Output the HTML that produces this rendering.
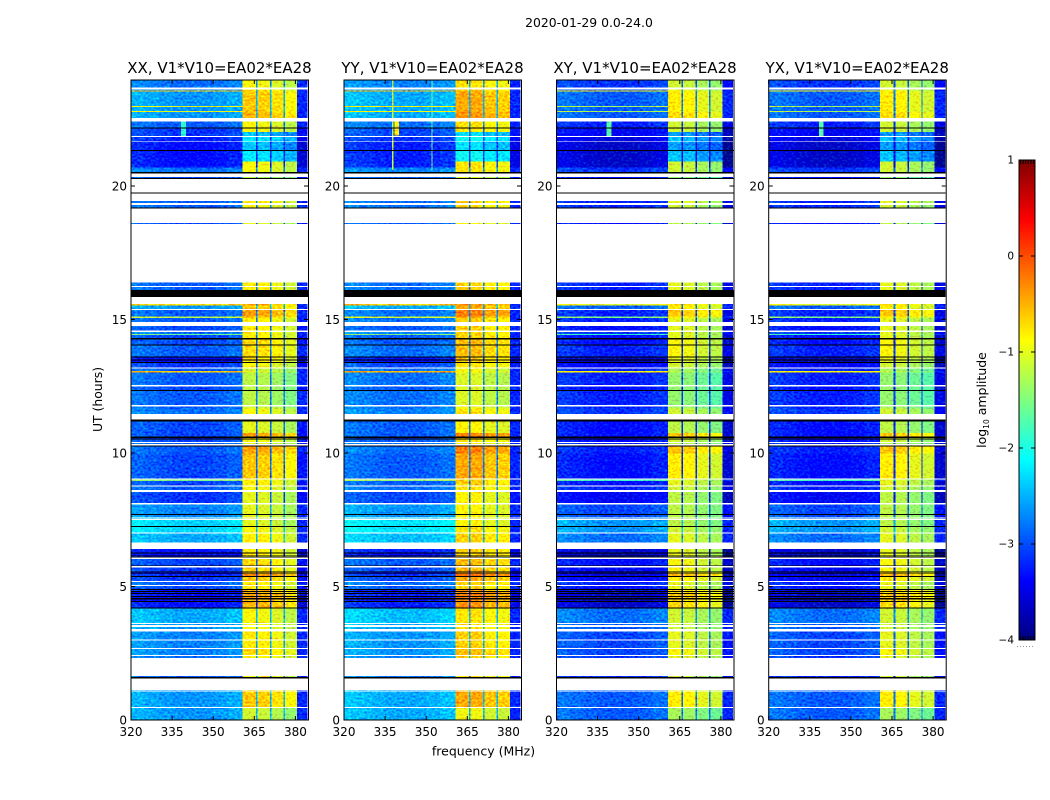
<!DOCTYPE html>
<html lang="en">
<head>
<meta charset="utf-8">
<title>Amplitude spectrogram 2020-01-29</title>
<style>
html,body{margin:0;padding:0;background:#fff;}
svg{display:block;}
text{font-family:"DejaVu Sans","Liberation Sans",sans-serif;fill:#000;}
</style>
</head>
<body>
<svg id="chart" xmlns="http://www.w3.org/2000/svg" width="1050" height="800" viewBox="0 0 1050 800">
<defs>
<filter id="speckle" filterUnits="userSpaceOnUse" x="120" y="70" width="840" height="660" color-interpolation-filters="sRGB">
<feTurbulence type="fractalNoise" baseFrequency="0.37 0.5" numOctaves="1" seed="7" result="noise"/>
<feColorMatrix in="noise" type="matrix" values="0 0 0 0 0.5  1 0 0 0 0  0 0 0 0 0.5  0 0 0 0 1" result="greenNoise"/>
<feComposite in="SourceGraphic" in2="greenNoise" operator="arithmetic" k1="0" k2="1" k3="0.9" k4="-0.45" result="speckled"/>
<feComposite in="speckled" in2="SourceAlpha" operator="in"/>
</filter>
</defs>
<text x="589" y="27" font-size="12.4" text-anchor="middle">2020-01-29 0.0-24.0</text>
<text x="483.5" y="755.5" font-size="12.5" text-anchor="middle">frequency (MHz)</text>
<text transform="translate(102,399.5) rotate(-90)" font-size="12.4" text-anchor="middle">UT (hours)</text>
<text transform="translate(986,400) rotate(-90)" font-size="12.5" text-anchor="middle">log<tspan font-size="7.5" dy="3">10</tspan><tspan dy="-3"> amplitude</tspan></text>
</svg>
<script>
const panelTitles = ["XX, V1*V10=EA02*EA28", "YY, V1*V10=EA02*EA28", "XY, V1*V10=EA02*EA28", "YX, V1*V10=EA02*EA28"];
const xTicks = [320, 335, 350, 365, 380];
const yTicks = [0, 5, 10, 15, 20];
const colorbarTicks = [1, 0, -1, -2, -3, -4];
const colorbarTickLabels = ["1", "0", "\u22121", "\u22122", "\u22123", "\u22124"];

// Frequency bin edges (MHz): eight low bins, then four bright bands separated by gaps, then the top bin.
const freqEdges = [320, 325, 330, 335, 340, 345, 350, 355, 360.7, 365.6, 366.2, 370.7, 371.2, 375.7, 376.2, 380.6, 384.5];
const lowShape = [0.12, 0.06, 0, -0.05, -0.05, -0.05, 0, 0.08];
const bandShapeXX = [0, -0.05, -0.15, -0.3];
const bandShapeYY = [0.05, 0.05, -0.1, -0.15];
const bandShapeXY = [0, -0.05, -0.2, -0.3];
const bandShapeYX = [0, -0.05, -0.2, -0.3];

// Log10 amplitude offset of each polarisation from the shared rows.
const panelLowOffset = [0, 0.1, -0.3, -0.3];
const panelBandOffset = [0, 0.1, -0.2, -0.2];

// Narrow interference features: panel index, frequency range (MHz), UT range (hours), log10 amplitude.
const spurPanel = [0, 1, 1, 1, 2, 3];
const spurFreqLow = [338.3, 338.4, 337.6, 351.9, 338.3, 338.3];
const spurFreqHigh = [340, 340, 338, 352.3, 340, 340];
const spurStart = [21.87, 21.9, 20.6, 20.6, 21.87, 21.87];
const spurEnd = [22.42, 22.47, 23.97, 23.97, 22.42, 22.42];
const spurValue = [-1.9, -0.8, -1.2, -1.6, -1.7, -1.7];

// Upper edge (UT hours) of each row, top to bottom.
const rowTop = [
23.97,23.68,23.64,23.62,23.60,23.57,23.53,23.00,22.95,22.81,
22.77,22.54,22.42,22.20,22.16,22.03,21.87,21.84,21.66,21.64,
21.35,21.31,20.91,20.70,20.52,20.46,20.34,20.30,20.27,19.76,
19.71,19.44,19.36,19.28,19.20,19.15,18.61,18.58,16.39,16.25,
16.21,16.10,15.85,15.58,15.53,15.39,15.36,15.11,15.06,14.90,
14.76,14.58,14.54,14.45,14.42,14.30,14.26,14.07,14.03,13.61,
13.57,13.51,13.47,13.41,13.37,13.21,13.17,13.07,13.02,12.54,
12.50,12.36,12.32,11.79,11.75,11.66,11.46,11.25,11.18,10.75,
10.61,10.57,10.55,10.51,10.42,10.37,10.33,10.29,10.24,9.99,
9.05,9.01,8.96,8.78,8.75,8.61,8.54,8.12,8.08,7.72,
7.67,7.61,7.58,7.54,7.49,7.27,7.22,7.03,6.99,6.64,
6.40,6.28,6.24,6.17,6.14,6.12,6.08,6.03,5.79,5.76,
5.72,5.56,5.53,5.49,5.46,5.39,5.36,5.21,5.17,5.06,
5.02,4.90,4.87,4.83,4.79,4.76,4.72,4.64,4.61,4.56,
4.52,4.46,4.42,4.22,4.18,3.64,3.60,3.55,3.49,3.40,
3.31,3.02,2.98,2.70,2.65,2.43,2.40,2.32,1.65,1.61,
1.55,1.12,1.11,1.07,0.48,0.45
];

// Off-band log10 amplitude per row. null = flagged (white), -9 = zero amplitude (black).
const rowLow = [
-2.8,null,-2.7,null,-2.7,-0.6,-2.6,-1.0,-2.6,-1.0,
-2.6,null,-2.9,-9,-3.1,-3.1,null,-3.2,null,-3.3,
-9,-3.3,-3.3,-2.8,-9,null,-3.0,-9,null,-9,
null,-2.9,null,-2.9,-9,null,-3.0,null,-2.9,null,
-2.9,-9,null,-0.7,-2.6,null,-2.9,-1.2,-2.9,null,
-3.0,null,-2.8,-1.6,-3.0,-9,-3.0,-9,-2.9,-9,
-3.4,-9,-3.4,-9,-3.1,null,-2.9,-0.6,-2.9,null,
-3.0,-9,-2.9,null,-2.9,-2.8,null,-9,-3.0,-3.0,
-9,-3.2,-9,-3.0,null,-2.9,null,-9,-2.9,-3.0,
null,-1.5,-3.0,null,-2.9,null,-3.1,null,-2.7,-9,
-2.7,null,-2.5,null,-2.3,-9,-2.3,null,-2.5,null,
-3.3,-9,-3.4,-9,-3.3,-9,null,-3.0,-9,null,
-3.1,-9,-3.4,-9,-3.2,-9,-3.1,null,-2.9,null,
-3.0,-9,-3.3,-9,-3.4,-9,-3.3,-9,-3.4,-9,
-3.4,-9,-3.3,-9,-2.5,null,-2.6,null,-2.6,null,
-2.7,null,-2.7,null,-2.7,null,-2.8,null,-2.9,-9,
null,-2.6,null,-2.6,null,-2.6
];

// In-band log10 amplitude per row (same null / -9 convention as rowLow).
const rowBand = [
-0.9,null,-0.8,null,-0.8,-0.7,-0.6,-0.6,-0.6,-0.6,
-0.5,null,-0.9,-9,-0.9,-2.4,null,-2.2,null,-2.4,
-9,-2.2,-0.9,-0.9,-9,null,-1.2,-9,null,-9,
null,-0.8,null,-0.9,-9,null,-1.0,null,-0.8,null,
-0.8,-9,null,-0.5,-0.6,null,-0.4,-0.6,-0.8,null,
-0.8,null,-0.8,-0.8,-0.8,-9,-0.7,-9,-0.7,-9,
-0.8,-9,-0.8,-9,-0.9,null,-1.1,-1.0,-1.2,null,
-1.2,-9,-1.2,null,-1.1,-0.9,null,-9,-1.0,-0.4,
-9,-0.8,-9,-0.9,null,-1.0,null,-9,-0.4,-0.6,
null,-0.8,-0.8,null,-0.9,null,-1.0,null,-1.0,-9,
-1.0,null,-1.0,null,-1.0,-9,-0.9,null,-0.8,null,
-0.8,-9,-0.8,-9,-0.8,-9,null,-0.7,-9,null,
-0.7,-9,-0.5,-9,-0.3,-9,-0.6,null,-0.8,null,
-0.8,-9,-0.5,-9,-0.5,-9,-0.4,-9,-0.4,-9,
-0.5,-9,-0.5,-9,-0.9,null,-0.9,null,-0.9,null,
-0.8,null,-0.8,null,-0.7,null,-0.8,null,-0.9,-9,
null,-0.7,null,-0.6,null,-1.1
];

const bandShapes = [bandShapeXX, bandShapeYY, bandShapeXY, bandShapeYX];
const panelLefts = [131, 344, 556.5, 768.7];
const panelWidth = 177;
const plotTop = 80;
const plotBottom = 720;
const colorbarLeft = 1019;
const colorbarWidth = 16;
const colorbarTop = 160;
const colorbarBottom = 640;
const vMin = -4;
const vMax = 1;
const NS = 'http://www.w3.org/2000/svg';
const svg = document.getElementById('chart');

function xScale(left, f) { return left + (f - 320) * 2.74; }
function yScale(h) { return plotBottom - h * 26.7; }
function colorbarY(v) { return colorbarBottom - (v - vMin) / (vMax - vMin) * (colorbarBottom - colorbarTop); }
function clamp01(a) { return Math.max(0, Math.min(1, a)); }
function jet(v) {
  const t = clamp01((v - vMin) / (vMax - vMin));
  const r = clamp01(Math.min(4 * t - 1.5, -4 * t + 4.5));
  const g = clamp01(Math.min(4 * t - 0.5, -4 * t + 3.5));
  const b = clamp01(Math.min(4 * t + 0.5, -4 * t + 2.5));
  return 'rgb(' + Math.round(r * 255) + ',' + Math.round(g * 255) + ',' + Math.round(b * 255) + ')';
}
function make(tag, attrs, parent) {
  const el = document.createElementNS(NS, tag);
  for (const k in attrs) el.setAttribute(k, attrs[k]);
  parent.appendChild(el);
  return el;
}
function rowBottom(r) { return r + 1 < rowTop.length ? rowTop[r + 1] : 0; }
function cellValue(p, r, c) {
  const low = rowLow[r] + panelLowOffset[p];
  if (c < 8) return low + lowShape[c];
  if (c === 15) return Math.min(low, -2.9) - 0.3;
  if (c % 2 === 1) return Math.min(low, -2.6) + 0.1;
  return rowBand[r] + panelBandOffset[p] + bandShapes[p][(c - 8) / 2];
}

panelTitles.forEach(function (title, p) {
  const left = panelLefts[p];
  const g = make('g', {}, svg);
  
  

  const cells = make('g', { 'shape-rendering': 'crispEdges', filter: 'url(#speckle)' }, g);
  
  
  rowTop.forEach(function (top, r) {
    if (rowLow[r] === null || rowLow[r] === -9) return;
    const y = yScale(top);
    const h = yScale(rowBottom(r)) - y;
    for (let c = 0; c + 1 < freqEdges.length; c++) {
      const x0 = xScale(left, freqEdges[c]);
      const x1 = Math.min(xScale(left, freqEdges[c + 1]), left + panelWidth);
      const cell = make('rect', { x: x0, y: y, width: x1 - x0, height: h, fill: jet(cellValue(p, r, c)) }, cells);
      
      
    }
    spurPanel.forEach(function (sp, s) {
      if (sp !== p) return;
      const t0 = Math.min(top, spurEnd[s]);
      const t1 = Math.max(rowBottom(r), spurStart[s]);
      if (t0 <= t1) return;
      const sx = xScale(left, spurFreqLow[s]);
      const spur = make('rect', { x: sx, y: yScale(t0), width: xScale(left, spurFreqHigh[s]) - sx, height: yScale(t1) - yScale(t0), fill: jet(spurValue[s]) }, cells);
      
      
    });
  });

  const zeros = make('g', { 'shape-rendering': 'crispEdges' }, g);
  
  
  rowTop.forEach(function (top, r) {
    if (rowLow[r] !== -9) return;
    const y = yScale(top);
    const zeroRow = make('rect', { x: left, y: y, width: panelWidth, height: yScale(rowBottom(r)) - y, fill: '#000' }, zeros);
    
    
  });

  const frame = make('rect', { x: left, y: plotTop, width: panelWidth + 0.5, height: plotBottom - plotTop, fill: 'none', stroke: '#000', 'stroke-width': 1 }, g);
  
  

  const titleEl = make('text', { x: left + panelWidth / 2, y: 73, 'font-size': 15, 'text-anchor': 'middle' }, g);
  titleEl.textContent = title;
  
  

  xTicks.forEach(function (f) {
    const x = xScale(left, f);
    const bottomTick = make('line', { x1: x, x2: x, y1: plotBottom, y2: plotBottom - 4, stroke: '#000' }, g);
    
    
    const topTick = make('line', { x1: x, x2: x, y1: plotTop, y2: plotTop + 4, stroke: '#000' }, g);
    
    
    const label = make('text', { x: x, y: 736, 'font-size': 12, 'text-anchor': 'middle' }, g);
    label.textContent = f;
    
    
  });

  yTicks.forEach(function (h) {
    const y = yScale(h);
    const leftTick = make('line', { x1: left, x2: left + 4, y1: y, y2: y, stroke: '#000' }, g);
    
    
    const rightTick = make('line', { x1: left + panelWidth, x2: left + panelWidth - 4, y1: y, y2: y, stroke: '#000' }, g);
    
    
    const label = make('text', { x: left - 4, y: y + 4.5, 'font-size': 12, 'text-anchor': 'end' }, g);
    label.textContent = h;
    
    
  });
});

const bar = make('g', {}, svg);


const steps = colorbarBottom - colorbarTop;
const strip = make('g', { 'shape-rendering': 'crispEdges' }, bar);


for (let i = 0; i < steps; i += 2) {
  const v = vMax - (i + 1) / steps * (vMax - vMin);
  const seg = make('rect', { x: colorbarLeft, y: colorbarTop + i, width: colorbarWidth, height: 2, fill: jet(v) }, strip);
  
  
}
const barFrame = make('rect', { x: colorbarLeft, y: colorbarTop, width: colorbarWidth, height: colorbarBottom - colorbarTop, fill: 'none', stroke: '#000', 'stroke-width': 1 }, bar);


for (let i = 0; i < 6; i++) {
  const tx = colorbarLeft + 1.5 + i * 2.6;
  const topMinor = make('line', { x1: tx, x2: tx, y1: colorbarTop, y2: colorbarTop + 4, stroke: '#000' }, bar);
  
  
  const bottomMinor = make('line', { x1: tx, x2: tx, y1: colorbarBottom, y2: colorbarBottom - 4, stroke: '#000' }, bar);
  
  
}
colorbarTicks.forEach(function (v, i) {
  const y = colorbarY(v);
  const leftTick = make('line', { x1: colorbarLeft, x2: colorbarLeft + 4, y1: y, y2: y, stroke: '#000' }, bar);
  
  
  const rightTick = make('line', { x1: colorbarLeft + colorbarWidth, x2: colorbarLeft + colorbarWidth - 4, y1: y, y2: y, stroke: '#000' }, bar);
  
  
  const label = make('text', { x: colorbarLeft - 5, y: y + 3.5, 'font-size': 10.5, 'text-anchor': 'end' }, bar);
  label.textContent = colorbarTickLabels[i];
  
  
});
const dots = make('line', { x1: 1017, x2: 1035, y1: 646.5, y2: 646.5, stroke: '#999', 'stroke-dasharray': '1 2' }, bar);


</script>
</body>
</html>
